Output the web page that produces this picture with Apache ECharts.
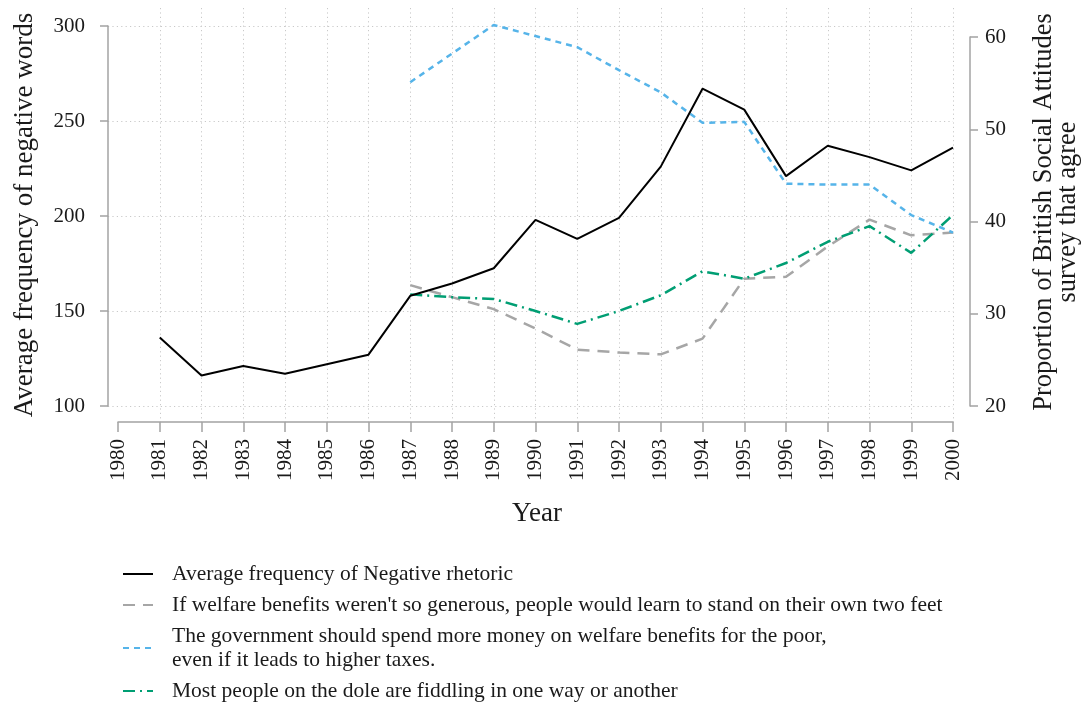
<!DOCTYPE html>
<html>
<head>
<meta charset="utf-8">
<script src="https://cdn.jsdelivr.net/npm/echarts@6/dist/echarts.min.js"></script>
<style>
  html, body { margin: 0; padding: 0; background: #fff; }
  #chart { width: 1081px; height: 705px; }
</style>
</head>
<body>
<div id="chart"></div>
<script>
// Years on the horizontal axis
const years = ['1980','1981','1982','1983','1984','1985','1986','1987','1988','1989','1990',
               '1991','1992','1993','1994','1995','1996','1997','1998','1999','2000'];

// Average frequency of negative words (left axis)
const negativeRhetoric = [null, 136, 116, 121, 117, 122, 127, 158, 164.5, 172.5, 198,
                          188, 199, 226, 267, 256, 221, 237, 231, 224, 236];

// British Social Attitudes survey, % agreeing (right axis)
const notSoGenerous = [null, null, null, null, null, null, null, 33.1, 31.8, 30.5, 28.4,
                       26.1, 25.8, 25.6, 27.3, 33.8, 34.0, 37.3, 40.2, 38.5, 38.8];
const spendMore     = [null, null, null, null, null, null, null, 55.1, 58.2, 61.3, 60.1,
                       58.9, 56.4, 54.0, 50.7, 50.8, 44.1, 44.0, 44.0, 40.7, 38.8];
const fiddling      = [null, null, null, null, null, null, null, 32.1, 31.8, 31.6, 30.3,
                       28.9, 30.3, 32.0, 34.6, 33.8, 35.5, 37.8, 39.5, 36.6, 40.7];

const leftTicks = { min: 100, max: 300, step: 50 };
const rightTicks = { min: 20, max: 60, step: 10 };

const serif = '"Liberation Serif", "Times New Roman", serif';
const ink = '#1a1a1a';
const axisGrey = '#a3a3a3';
const gridDots = { color: '#c9c9c9', width: 1, type: [1.2, 3.2] };

const names = [
  'Average frequency of Negative rhetoric',
  "If welfare benefits weren't so generous, people would learn to stand on their own two feet",
  'The government should spend more money on welfare benefits for the poor,\neven if it leads to higher taxes.',
  'Most people on the dole are fiddling in one way or another'
];

const chart = echarts.init(document.getElementById('chart'), null, { renderer: 'canvas' });

chart.setOption({
  animation: false,
  backgroundColor: '#ffffff',
  grid: [
    // 0: left value axis and horizontal guide lines
    { left: 108, top: 26, width: 845, height: 380, containLabel: false },
    // 1: year axis and vertical guide lines
    { left: 118, top: 8, width: 835, height: 414, containLabel: false },
    // 2: negative rhetoric line
    { left: 118, top: 26, width: 835, height: 380, containLabel: false },
    // 3: survey lines against the right axis
    { left: 118, top: 37, width: 835, height: 369, containLabel: false }
  ],
  xAxis: [
    { gridIndex: 0, type: 'value', min: 0, max: 1, show: false },
    {
      gridIndex: 1, type: 'category', data: years, boundaryGap: false, position: 'bottom',
      axisLine: { show: true, lineStyle: { color: axisGrey, width: 1.5 } },
      axisTick: { show: true, length: 10, lineStyle: { color: axisGrey, width: 1.5 } },
      axisLabel: { rotate: 90, margin: 17, fontSize: 21, fontFamily: serif, color: ink, interval: 0 },
      splitLine: { show: true, interval: (i) => i !== 0, lineStyle: gridDots }
    },
    { gridIndex: 2, type: 'category', data: years, boundaryGap: false, show: false },
    { gridIndex: 3, type: 'category', data: years, boundaryGap: false, show: false }
  ],
  yAxis: [
    {
      gridIndex: 0, type: 'value', position: 'left', offset: 8,
      min: leftTicks.min, max: leftTicks.max, interval: leftTicks.step,
      axisLine: { show: true, lineStyle: { color: axisGrey, width: 1.5 } },
      axisTick: { show: true, length: 8, lineStyle: { color: axisGrey, width: 1.5 } },
      axisLabel: { margin: 15, fontSize: 21, fontFamily: serif, color: ink },
      splitLine: { show: true, lineStyle: gridDots }
    },
    { gridIndex: 1, type: 'value', min: 0, max: 1, show: false },
    { gridIndex: 2, type: 'value', min: leftTicks.min, max: leftTicks.max, show: false },
    {
      gridIndex: 3, type: 'value', position: 'right', offset: 17,
      min: rightTicks.min, max: rightTicks.max, interval: rightTicks.step,
      axisLine: { show: true, lineStyle: { color: axisGrey, width: 1.5 } },
      axisTick: { show: true, length: 8, lineStyle: { color: axisGrey, width: 1.5 } },
      axisLabel: { margin: 15, fontSize: 21, fontFamily: serif, color: ink },
      splitLine: { show: false }
    }
  ],
  legend: {
    orient: 'vertical',
    left: 122, top: 562,
    width: 900, height: 160,
    padding: 0,
    itemGap: 7,
    itemWidth: 30, itemHeight: 14,
    selectedMode: false,
    data: names,
    // line-only keys: hide the marker that line series add to their legend icon
    itemStyle: { opacity: 0 },
    textStyle: {
      fontFamily: serif, fontSize: 21.5, color: ink, lineHeight: 24,
      padding: [0, 0, 0, 14]
    }
  },
  series: [
    {
      name: names[0], type: 'line', xAxisIndex: 2, yAxisIndex: 2,
      data: negativeRhetoric, symbol: 'none', showSymbol: false, clip: false,
      lineStyle: { color: '#000000', width: 2 }, itemStyle: { color: '#000000' }, z: 5
    },
    {
      name: names[1], type: 'line', xAxisIndex: 3, yAxisIndex: 3,
      data: notSoGenerous, symbol: 'none', showSymbol: false, clip: false,
      lineStyle: { color: '#a6a6a6', width: 2.5, type: [12, 8] }, itemStyle: { color: '#a6a6a6' }, z: 3
    },
    {
      name: names[2], type: 'line', xAxisIndex: 3, yAxisIndex: 3,
      data: spendMore, symbol: 'none', showSymbol: false, clip: false,
      lineStyle: { color: '#56b4e9', width: 2.5, type: [6, 5] }, itemStyle: { color: '#56b4e9' }, z: 3
    },
    {
      name: names[3], type: 'line', xAxisIndex: 3, yAxisIndex: 3,
      data: fiddling, symbol: 'none', showSymbol: false, clip: false,
      lineStyle: { color: '#009e73', width: 2.5, type: [12, 5, 2, 5] }, itemStyle: { color: '#009e73' }, z: 4
    }
  ],
  graphic: [
    {
      type: 'text', x: 25, y: 215, rotation: Math.PI / 2,
      style: { text: 'Average frequency of negative words', font: '27px ' + serif,
               fill: ink, align: 'center', verticalAlign: 'middle' }
    },
    {
      type: 'text', x: 1056, y: 212, rotation: Math.PI / 2,
      style: { text: 'Proportion of British Social Attitudes\nsurvey that agree', font: '26.5px ' + serif,
               fill: ink, align: 'center', verticalAlign: 'middle', lineHeight: 24 }
    },
    {
      type: 'text', x: 537, y: 514,
      style: { text: 'Year', font: '27px ' + serif, fill: ink, align: 'center', verticalAlign: 'middle' }
    }
  ]
});
</script>
</body>
</html>
